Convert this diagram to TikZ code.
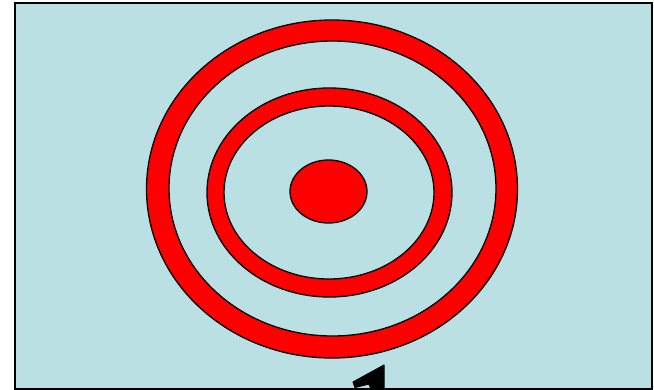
\documentclass[tikz,border=0pt]{standalone}
\definecolor{bgblue}{RGB}{186,224,228}
\tikzset{ring/.style={fill=red,draw=black,line width=1.3pt,even odd rule}}
\begin{document}
\begin{tikzpicture}[x=1pt,y=-1pt]
\useasboundingbox (0,0) rectangle (654,389);
\begin{scope}
\clip (0,0) rectangle (654,389);
\node[draw=black,line width=2pt,fill=bgblue,minimum width=637pt,minimum height=386pt,inner sep=0pt,anchor=north west] (frame) at (14,2) {};
% outer ring
\path[ring] (332,189) ellipse [x radius=185.5,y radius=169]
            (332.5,188.5) ellipse [x radius=163.5,y radius=147.5];
% middle ring
\path[ring] (329.5,192.5) ellipse [x radius=122.5,y radius=104.5]
            (329,192.5) ellipse [x radius=105,y radius=86.5];
% dot
\path[fill=red,draw=black,line width=1.3pt] (328.5,191.5) ellipse [x radius=38.5,y radius=31.5];
% arrow (clipped at the bottom edge)
\coordinate (tip) at (384,365);
\coordinate (barb) at (353,382);
\coordinate (barbb) at (355,387.5);
\coordinate (notch) at (369,384);
\coordinate (shl) at (372,392);
\coordinate (shr) at (384,392);
\fill[black,draw=black,line width=1pt,line join=round] (tip) -- (barb) -- (barbb) -- (notch) -- (shl) -- (shr) -- cycle;
\draw[black,line width=2pt] (frame.south west) -- (frame.south east);
\end{scope}
\end{tikzpicture}
\end{document}
